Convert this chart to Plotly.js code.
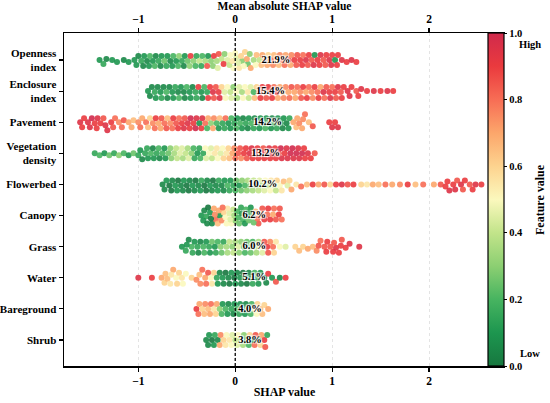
<!DOCTYPE html>
<html>
<head>
<meta charset="utf-8">
<script src="https://cdn.plot.ly/plotly-3.0.1.min.js"></script>
<style>html,body{margin:0;padding:0;background:#fff;}#chart{width:550px;height:403px;}</style>
</head>
<body>
<div id="chart"></div>
<script>
// ---------------- data ----------------
const rowNames = ['Openness<br>index','Enclosure<br>index','Pavement','Vegetation<br>density','Flowerbed','Canopy','Grass','Water','Bareground','Shrub'];
const pctLabels = ['21.9%','15.4%','14.2%','13.2%','10.2%','6.2%','6.0%','5.1%','4.0%','3.8%'];
const meanAbsShap = [0.27,0.215,0.185,0.165,0.135,0.075,0.075,0.075,0.03,0.03];

const opennessShap = [-1.40,-1.36,-1.33,-1.27,-1.22,-1.15,-1.10,-1.04,-1.00,-0.97,-0.94,-0.91,-0.88,-0.85,-0.82,-0.79,-0.76,-0.73,-0.70,-0.67,-0.64,-0.61,-0.58,-0.55,-0.52,-0.49,-0.46,-0.43,-0.40,-0.37,-0.34,-0.31,-0.28,-0.25,-0.22,-0.19,-0.17,-0.14,-0.11,-0.08,-0.05,-0.02,0.01,0.04,0.07,0.10,0.13,0.16,0.19,0.22,0.25,0.28,0.31,0.34,0.37,0.40,0.43,0.46,0.49,0.52,0.55,0.58,0.61,0.64,0.67,0.70,0.73,0.76,0.79,0.82,0.85,0.88,0.91,0.94,0.97,1.00,1.03,1.06,1.10,1.15,1.20,1.25,
  -1.02,-0.95,-0.89,-0.83,-0.77,-0.71,-0.65,-0.59,-0.53,-0.47,-0.41,-0.35,-0.29,-0.23,-0.18,-0.12,-0.06,-0.03,0.00,0.03,0.06,0.09,0.12,0.15,0.21,0.27,0.33,0.39,0.45,0.51,0.57,0.63,0.69,0.75,0.81,0.87,0.93,0.99,1.05];
const opennessFeat = [0.1,0.15,0.05,0.1,0.1,0.05,0.1,0.1,0.05,0.15,0.1,0.05,0.2,0.1,0.05,0.15,0.1,0.25,0.1,0.05,0.2,0.1,0.3,0.15,0.1,0.25,0.9,0.3,0.15,0.4,0.2,0.35,0.1,0.3,0.9,0.35,0.85,0.4,0.3,0.45,0.5,0.5,0.45,0.55,0.3,0.6,0.25,0.7,0.35,0.65,0.4,0.7,0.75,0.6,0.8,0.65,0.7,0.75,0.8,0.7,0.85,0.75,0.9,0.85,0.9,0.8,0.95,0.9,0.85,0.1,0.9,0.95,0.85,0.9,0.95,0.9,0.1,0.9,0.95,0.9,0.95,0.9,
  0.1,0.05,0.1,0.2,0.05,0.15,0.1,0.2,0.05,0.3,0.2,0.15,0.85,0.3,0.45,0.9,0.4,0.55,0.5,0.45,0.6,0.5,0.7,0.3,0.5,0.65,0.7,0.75,0.65,0.8,0.7,0.85,0.9,0.85,0.95,0.9,0.85,0.95,0.9];

const enclosureShap = [-0.90,-0.86,-0.83,-0.80,-0.77,-0.74,-0.71,-0.68,-0.65,-0.62,-0.59,-0.56,-0.53,-0.50,-0.47,-0.44,-0.41,-0.38,-0.35,-0.32,-0.29,-0.26,-0.23,-0.20,-0.17,-0.14,-0.11,-0.08,-0.05,-0.02,0.01,0.04,0.07,0.10,0.13,0.16,0.19,0.22,0.25,0.28,0.31,0.34,0.37,0.40,0.43,0.46,0.49,0.52,0.55,0.58,0.61,0.64,0.67,0.70,0.73,0.76,0.79,0.82,0.85,0.88,0.91,0.94,0.97,1.00,1.03,1.06,1.09,1.12,1.16,1.20,1.25,1.30,1.36,1.43,1.50,1.57,1.63,
  -0.88,-0.82,-0.76,-0.70,-0.64,-0.58,-0.52,-0.46,-0.40,-0.34,-0.28,-0.22,-0.16,-0.10,-0.04,0.02,0.08,0.14,0.20,0.26,0.32,0.38,0.44,0.50,0.56,0.62,0.68,0.74,0.80,0.86,0.92,0.98,1.04,1.10,1.18,1.27];
const enclosureFeat = [0.1,0.05,0.15,0.05,0.1,0.05,0.2,0.05,0.1,0.15,0.05,0.1,0.05,0.2,0.1,0.05,0.15,0.9,0.1,0.2,0.15,0.9,0.95,0.85,0.9,0.6,0.45,0.5,0.4,0.3,0.5,0.45,0.35,0.5,0.55,0.45,0.2,0.6,0.85,0.9,0.7,0.9,0.95,0.8,0.9,0.7,0.65,0.75,0.7,0.85,0.7,0.8,0.75,0.9,0.7,0.8,0.75,0.9,0.8,0.7,0.95,0.85,0.9,0.8,0.9,0.95,0.85,0.9,0.95,0.9,0.85,0.95,0.9,0.95,0.9,0.95,0.9,
  0.05,0.1,0.15,0.05,0.1,0.2,0.05,0.1,0.15,0.05,0.9,0.85,0.95,0.5,0.45,0.35,0.5,0.4,0.65,0.9,0.85,0.9,0.7,0.75,0.8,0.7,0.85,0.9,0.75,0.9,0.8,0.95,0.85,0.9,0.95,0.9];

const pavementShap = [-1.60,-1.56,-1.52,-1.48,-1.45,-1.42,-1.39,-1.36,-1.32,-1.28,-1.24,-1.20,-1.15,-1.10,-1.05,-1.00,-0.96,-0.92,-0.88,-0.85,-0.82,-0.79,-0.76,-0.73,-0.70,-0.67,-0.64,-0.61,-0.58,-0.55,-0.52,-0.49,-0.46,-0.43,-0.40,-0.37,-0.34,-0.31,-0.28,-0.25,-0.22,-0.19,-0.16,-0.13,-0.10,-0.07,-0.04,-0.01,0.02,0.05,0.08,0.11,0.14,0.17,0.20,0.23,0.26,0.29,0.32,0.35,0.38,0.41,0.44,0.47,0.50,0.53,0.56,0.60,0.63,0.66,0.69,0.72,0.76,0.80,0.97,1.00,1.03,1.06,
  -1.58,-1.50,-1.43,-1.34,-1.26,-1.17,-1.07,-0.98,-0.90,-0.83,-0.77,-0.71,-0.65,-0.59,-0.53,-0.47,-0.41,-0.35,-0.29,-0.23,-0.17,-0.11,-0.05,0.01,0.07,0.13,0.19,0.25,0.31,0.37,0.43,0.49,0.55,0.64,0.70];
const pavementFeat = [0.95,0.9,0.95,1.0,0.9,0.95,0.9,0.85,0.95,0.9,0.8,0.75,0.85,0.7,0.65,0.75,0.7,0.8,0.6,0.75,0.9,0.7,0.85,0.8,0.65,0.75,0.9,0.85,0.8,0.9,0.85,0.95,1.0,0.9,0.95,0.1,0.95,0.8,0.7,0.3,0.75,0.2,0.65,0.15,0.8,0.1,0.2,0.15,0.1,0.2,0.05,0.15,0.1,0.2,0.05,0.15,0.1,0.2,0.1,0.15,0.05,0.2,0.1,0.15,0.1,0.05,0.15,0.7,0.65,0.75,0.7,0.8,0.65,0.85,0.9,0.95,0.9,0.95,
  0.9,0.95,0.9,0.95,0.85,0.8,0.7,0.8,0.65,0.8,0.7,0.85,0.8,0.9,0.95,0.9,1.0,0.9,0.2,0.7,0.1,0.15,0.1,0.2,0.1,0.05,0.15,0.1,0.2,0.1,0.15,0.05,0.1,0.7,0.75];

const vegetationShap = [-1.45,-1.40,-1.35,-1.30,-1.25,-1.20,-1.15,-1.10,-1.05,-1.00,-0.96,-0.93,-0.90,-0.87,-0.84,-0.81,-0.78,-0.75,-0.72,-0.69,-0.66,-0.63,-0.60,-0.57,-0.54,-0.51,-0.48,-0.45,-0.42,-0.39,-0.36,-0.33,-0.30,-0.27,-0.24,-0.21,-0.18,-0.15,-0.12,-0.09,-0.06,-0.03,0.00,0.03,0.06,0.09,0.12,0.15,0.18,0.21,0.24,0.27,0.30,0.33,0.36,0.39,0.42,0.45,0.48,0.51,0.54,0.57,0.60,0.63,0.66,0.69,0.72,0.75,0.78,0.82,
  -0.98,-0.91,-0.85,-0.79,-0.73,-0.67,-0.61,-0.55,-0.49,-0.43,-0.37,-0.31,-0.25,-0.19,-0.13,-0.07,-0.01,0.05,0.11,0.17,0.23,0.29,0.35,0.41,0.47,0.53,0.59,0.65,0.71];
const vegetationFeat = [0.15,0.2,0.1,0.25,0.15,0.3,0.2,0.1,0.25,0.15,0.05,0.15,0.1,0.2,0.1,0.15,0.05,0.2,0.1,0.25,0.3,0.35,0.4,0.45,0.35,0.4,0.45,0.3,0.15,0.1,0.2,0.15,0.45,0.5,0.4,0.55,0.5,0.45,0.6,0.55,0.65,0.7,0.8,0.85,0.75,0.9,0.85,0.95,0.9,0.85,0.9,0.95,0.9,0.85,0.9,0.95,0.9,0.85,0.95,0.9,0.95,1.0,0.95,1.0,0.95,1.0,0.9,0.95,0.9,0.85,
  0.1,0.15,0.05,0.2,0.1,0.3,0.4,0.45,0.35,0.2,0.15,0.5,0.45,0.55,0.5,0.6,0.75,0.85,0.9,0.95,0.9,0.85,0.95,0.9,1.0,0.95,1.0,0.95,0.9];

const flowerbedShap = [-0.75,-0.71,-0.68,-0.65,-0.62,-0.59,-0.56,-0.53,-0.50,-0.47,-0.44,-0.41,-0.38,-0.35,-0.32,-0.29,-0.26,-0.23,-0.20,-0.17,-0.14,-0.11,-0.08,-0.05,-0.02,0.01,0.04,0.07,0.10,0.13,0.16,0.19,0.22,0.25,0.28,0.31,0.34,0.37,0.40,0.43,0.46,0.50,0.54,0.58,0.63,0.68,0.74,0.80,0.86,0.92,0.98,1.04,1.10,1.16,1.22,1.30,1.36,1.42,1.48,1.55,1.62,1.70,1.78,1.86,1.94,2.05,2.12,2.17,2.21,2.25,2.29,2.33,2.37,2.42,2.48,2.54,
  -0.73,-0.66,-0.60,-0.54,-0.48,-0.42,-0.36,-0.30,-0.24,-0.18,-0.12,-0.06,0.00,0.06,0.12,0.18,0.24,0.30,0.36,0.42,0.48,0.56,2.19,2.27,2.35,2.45];
const flowerbedFeat = [0.05,0.1,0.0,0.05,0.1,0.0,0.05,0.1,0.0,0.05,0.1,0.0,0.05,0.15,0.0,0.05,0.1,0.0,0.05,0.15,0.05,0.1,0.2,0.1,0.15,0.25,0.1,0.3,0.2,0.35,0.25,0.4,0.3,0.45,0.35,0.5,0.4,0.55,0.45,0.6,0.5,0.65,0.45,0.7,0.55,0.8,0.65,0.9,0.7,0.85,0.6,0.9,0.95,0.85,0.9,0.6,0.55,0.7,0.65,0.8,0.7,0.75,0.9,0.65,0.8,0.7,0.85,0.9,0.95,0.9,0.85,0.95,0.9,0.85,0.95,0.9,
  0.05,0.0,0.1,0.05,0.0,0.05,0.1,0.0,0.05,0.1,0.05,0.15,0.2,0.25,0.3,0.35,0.4,0.45,0.5,0.4,0.55,0.6,0.9,0.95,0.85,0.9];

const canopyShap = [-0.35,-0.32,-0.30,-0.28,-0.26,-0.24,-0.22,-0.20,-0.18,-0.16,-0.14,-0.12,-0.10,-0.08,-0.06,-0.04,-0.02,0.00,0.02,0.04,0.06,0.08,0.10,0.12,0.14,0.16,0.18,0.21,0.24,0.27,0.30,0.33,0.36,0.39,0.42,0.45,0.48,
  -0.33,-0.29,-0.25,-0.21,-0.17,-0.13,-0.09,-0.05,-0.01,0.03,0.07,0.11,0.15,0.19,0.23,0.28,0.34,0.40,0.46];
const canopyFeat = [0.1,0.05,0.15,0.0,0.1,0.05,0.7,0.8,0.65,0.1,0.75,0.6,0.5,0.55,0.45,0.5,0.4,0.3,0.2,0.25,0.15,0.2,0.1,0.15,0.25,0.1,0.2,0.65,0.85,0.75,0.9,0.8,0.9,0.7,0.85,0.9,0.8,
  0.1,0.05,0.0,0.75,0.7,0.8,0.5,0.45,0.35,0.2,0.1,0.2,0.15,0.25,0.8,0.85,0.9,0.8,0.85];

const grassShap = [-0.55,-0.51,-0.48,-0.45,-0.42,-0.39,-0.36,-0.33,-0.30,-0.27,-0.24,-0.21,-0.18,-0.15,-0.12,-0.09,-0.06,-0.03,0.00,0.03,0.06,0.09,0.12,0.15,0.18,0.21,0.24,0.27,0.30,0.33,0.36,0.39,0.42,0.46,0.52,0.62,0.66,0.70,0.75,0.80,0.84,0.88,0.92,0.95,0.98,1.01,1.04,1.07,1.10,1.14,1.18,1.28,
  -0.50,-0.44,-0.38,-0.32,-0.26,-0.20,-0.14,-0.08,-0.02,0.04,0.10,0.16,0.22,0.28,0.34,0.40,0.86,0.94,1.02,1.09];
const grassFeat = [0.1,0.15,0.05,0.2,0.1,0.15,0.05,0.2,0.1,0.15,0.25,0.1,0.2,0.3,0.15,0.35,0.4,0.3,0.35,0.45,0.3,0.2,0.25,0.3,0.2,0.4,0.35,0.5,0.85,0.9,0.75,0.8,0.55,0.5,0.45,0.6,0.65,0.6,0.7,0.65,0.75,0.8,0.85,0.9,0.85,0.9,0.95,0.9,0.85,0.9,0.95,0.95,
  0.1,0.15,0.05,0.2,0.1,0.15,0.25,0.35,0.4,0.3,0.2,0.25,0.35,0.45,0.85,0.6,0.85,0.9,0.85,0.9];

const waterShap = [-1.00,-0.86,-0.76,-0.73,-0.70,-0.67,-0.64,-0.61,-0.58,-0.55,-0.51,-0.45,-0.40,-0.37,-0.34,-0.31,-0.28,-0.25,-0.22,-0.19,-0.16,-0.13,-0.10,-0.07,-0.04,-0.01,0.02,0.05,0.08,0.11,0.14,0.17,0.20,0.23,0.26,0.30,0.34,0.38,0.42,0.46,0.52,
  -0.72,-0.66,-0.60,-0.54,-0.36,-0.30,-0.24,-0.18,-0.12,-0.06,0.00,0.06,0.12,0.18,0.24,0.32];
const waterFeat = [0.95,0.9,0.7,0.6,0.65,0.55,0.7,0.5,0.6,0.55,0.5,0.6,0.75,0.65,0.8,0.7,0.85,0.5,0.6,0.15,0.05,0.1,0.0,0.05,0.1,0.0,0.05,0.1,0.0,0.15,0.05,0.1,0.2,0.15,0.1,0.05,0.9,0.1,0.85,0.05,0.9,
  0.65,0.55,0.6,0.5,0.75,0.8,0.55,0.1,0.05,0.0,0.1,0.05,0.0,0.15,0.1,0.05];

const baregroundShap = [-0.40,-0.37,-0.34,-0.31,-0.28,-0.25,-0.22,-0.19,-0.16,-0.13,-0.10,-0.07,-0.04,-0.01,0.02,0.05,0.08,0.11,0.14,0.17,0.20,0.23,0.26,0.30,0.34,
  -0.38,-0.32,-0.26,-0.20,-0.14,-0.08,-0.02,0.04,0.10,0.16,0.22,0.28];
const baregroundFeat = [0.9,0.7,0.6,0.75,0.65,0.8,0.55,0.7,0.3,0.1,0.2,0.05,0.15,0.1,0.2,0.1,0.15,0.05,0.25,0.2,0.55,0.6,0.65,0.6,0.7,
  0.8,0.65,0.7,0.6,0.2,0.1,0.05,0.15,0.1,0.2,0.5,0.65];

const shrubShap = [-0.30,-0.27,-0.24,-0.21,-0.18,-0.15,-0.12,-0.09,-0.06,-0.03,0.00,0.03,0.06,0.09,0.12,0.15,0.18,0.21,0.24,0.27,0.30,0.33,
  -0.28,-0.22,-0.16,-0.10,-0.04,0.02,0.08,0.14,0.20,0.26,0.31];
const shrubFeat = [0.05,0.1,0.0,0.15,0.05,0.75,0.6,0.5,0.55,0.45,0.4,0.5,0.35,0.3,0.15,0.6,0.1,0.85,0.2,0.7,0.9,0.15,
  0.05,0.1,0.7,0.55,0.5,0.45,0.35,0.2,0.8,0.6,0.85];

const shapRows = [opennessShap,enclosureShap,pavementShap,vegetationShap,flowerbedShap,canopyShap,grassShap,waterShap,baregroundShap,shrubShap];
const featRows = [opennessFeat,enclosureFeat,pavementFeat,vegetationFeat,flowerbedFeat,canopyFeat,grassFeat,waterFeat,baregroundFeat,shrubFeat];

// ---------------- layout geometry ----------------
const W = 550, H = 403, M = {l:64, r:45, t:33, b:37};
const xRange = [-1.767, 2.784];
const yRange = [9.836, -0.868];
const pxPerX = (W - M.l - M.r) / (xRange[1] - xRange[0]);
const pxPerY = (H - M.t - M.b) / (yRange[0] - yRange[1]);

// beeswarm vertical spreading (layout only)
function swarm(xs){
  const n = xs.length;
  const idx = xs.map((_, i) => i).sort((a, b) => xs[a] - xs[b]);
  const placed = [], off = new Array(n);
  const D = 5.2, step = 1, maxOff = 8, K = Math.floor(maxOff / step);
  for (const i of idx){
    const px = xs[i] * pxPerX;
    let best = 0, bestScore = -1;
    for (let k = 0; k <= 2 * K; k++){
      const o = (k % 2 ? 1 : -1) * Math.ceil(k / 2) * step;
      let minD = Infinity;
      for (let j = placed.length - 1; j >= 0; j--){
        const p = placed[j];
        if (px - p.x >= D) break;
        const d = Math.hypot(px - p.x, o - p.y);
        if (d < minD) minD = d;
      }
      if (minD >= D){ best = o; bestScore = Infinity; break; }
      if (minD > bestScore){ bestScore = minD; best = o; }
    }
    placed.push({x: px, y: best});
    off[i] = best;
  }
  return off;
}

const serif = 'Liberation Serif, Times New Roman, serif';
const traces = [];
shapRows.forEach((xs, r) => {
  const off = swarm(xs);
  traces.push({
    type: 'scatter', mode: 'markers',
    name: rowNames[r].replace('<br>', ' '),
    x: xs,
    y: off.map(o => r + o / pxPerY),
    marker: {color: featRows[r], coloraxis: 'coloraxis', size: 6, opacity: 0.9, line: {width: 0}},
    showlegend: false,
    hovertemplate: '%{x:.2f}<extra></extra>'
  });
});

traces.push({
  type: 'scatter', mode: 'text',
  x: meanAbsShap, y: rowNames.map((_, i) => i),
  xaxis: 'x2', yaxis: 'y',
  text: pctLabels, textposition: 'middle right',
  textfont: {family: serif, size: 10.5, color: '#000', weight: 'bold',
             shadow: '1px 1px 1px #fff, -1px -1px 1px #fff, 1px -1px 1px #fff, -1px 1px 1px #fff'},
  showlegend: false, hoverinfo: 'skip', cliponaxis: false
});

const tickFont = {family: serif, size: 11.5, color: '#000', weight: 'bold'};
const layout = {
  width: W, height: H,
  margin: M,
  paper_bgcolor: '#fff', plot_bgcolor: '#fff',
  font: {family: serif, color: '#000'},
  xaxis: {
    range: xRange, tickvals: [-1, 0, 1, 2], ticks: 'outside', ticklen: 4, tickwidth: 1.2, tickcolor: '#000',
    showline: true, linecolor: '#000', linewidth: 1.5,
    showgrid: true, gridcolor: '#e4e4e4', griddash: 'dot', gridwidth: 1, zeroline: false,
    tickfont: tickFont,
    title: {text: 'SHAP value', font: {family: serif, size: 12, color: '#000', weight: 'bold'}, standoff: 1}
  },
  xaxis2: {
    range: xRange, overlaying: 'x', side: 'top', tickvals: [-1, 0, 1, 2], ticks: 'outside', ticklen: 4, tickwidth: 1.2, tickcolor: '#000',
    showline: true, linecolor: '#000', linewidth: 1.5, showgrid: false, zeroline: false,
    tickfont: tickFont,
    title: {text: 'Mean absolute SHAP value', font: {family: serif, size: 11.5, color: '#000', weight: 'bold'}, standoff: 0}
  },
  yaxis: {
    range: yRange, tickvals: rowNames.map((_, i) => i), ticktext: rowNames,
    ticks: 'outside', ticklen: 4, tickwidth: 1.2, tickcolor: '#000',
    showline: true, linecolor: '#000', linewidth: 1.5, showgrid: false, zeroline: false,
    tickfont: {family: serif, size: 11, color: '#000', weight: 'bold'}
  },
  coloraxis: {
    cmin: 0, cmax: 1,
    colorscale: [[0,'#17773f'],[0.1,'#1d964f'],[0.2,'#47b460'],[0.3,'#8ccf72'],[0.4,'#c2e48a'],[0.5,'#fbf8bd'],[0.6,'#fdd38f'],[0.7,'#fca66b'],[0.8,'#f76d55'],[0.9,'#ea3a3e'],[1,'#d02a4c']],
    colorbar: {
      x: (488 - 64) / (550 - 64 - 45), xanchor: 'left', xpad: 0, ypad: 0,
      y: 0.5, yanchor: 'middle', len: 1, lenmode: 'fraction', thickness: 16,
      outlinecolor: '#000', outlinewidth: 1.2,
      tickvals: [0, 0.2, 0.4, 0.6, 0.8, 1.0], tickformat: '.1f',
      ticks: 'outside', ticklen: 3, tickcolor: '#000',
      tickfont: {family: serif, size: 10.5, color: '#000', weight: 'bold'},
      title: {text: ''}
    }
  },
  shapes: [{type: 'line', xref: 'x', yref: 'paper', x0: 0, x1: 0, y0: 0, y1: 1,
            line: {color: '#000', width: 1.3, dash: '3px,2px'}, layer: 'above'}],
  annotations: [
    {xref: 'paper', yref: 'paper', x: (517 - 64) / 441, y: 1 - (45 - 33) / 333, xanchor: 'left', yanchor: 'middle',
     text: 'High', showarrow: false, font: {family: serif, size: 10.5, color: '#000', weight: 'bold'}},
    {xref: 'paper', yref: 'paper', x: (518 - 64) / 441, y: (366 - 353) / 333, xanchor: 'left', yanchor: 'middle',
     text: 'Low', showarrow: false, font: {family: serif, size: 10.5, color: '#000', weight: 'bold'}},
    {xref: 'paper', yref: 'paper', x: (540 - 64) / 441, y: 1 - (200 - 33) / 333, xanchor: 'center', yanchor: 'middle',
     text: 'Feature value', textangle: -90, showarrow: false, font: {family: serif, size: 12, color: '#000', weight: 'bold'}}
  ]
};

Plotly.newPlot('chart', traces, layout, {displayModeBar: false, staticPlot: true});
</script>
</body>
</html>
